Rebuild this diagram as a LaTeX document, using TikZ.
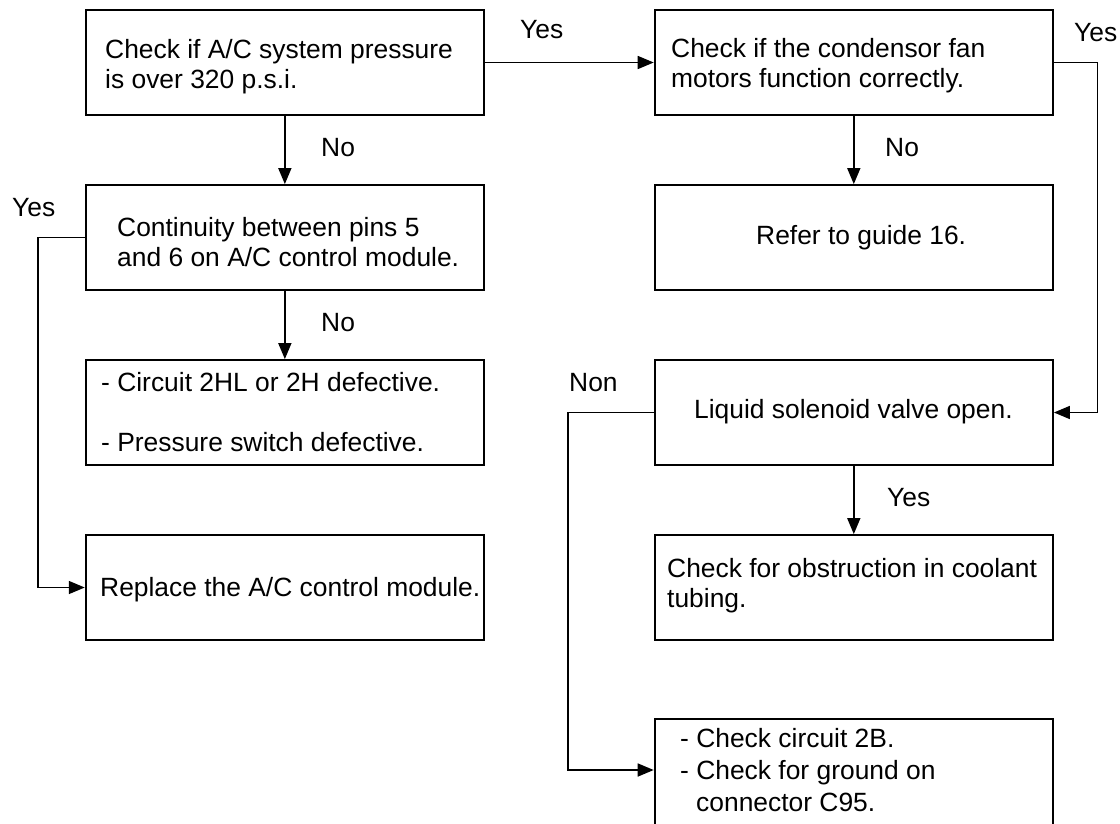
\documentclass[tikz,border=0pt]{standalone}
\usepackage{fontspec}
\setmainfont{Liberation Sans}
\usetikzlibrary{arrows.meta}
\begin{document}
\begin{tikzpicture}[x=1pt,y=-1pt,
  box/.style={draw, line width=1.8pt, minimum width=398.4pt, minimum height=105pt, inner sep=0pt},
  txt/.style={font=\fontsize{26.4}{30}\selectfont, align=left, inner sep=0pt, anchor=west},
  lbl/.style={font=\fontsize{26.4}{30}\selectfont, inner sep=0pt, anchor=west},
  conn/.style={line width=1.6pt},
  arr/.style={conn, -{Triangle[length=16pt,width=13pt]}}]
\useasboundingbox (0,0) rectangle (1120,823);
\clip (0,0) rectangle (1120,823);

% boxes
\node[box] (b1) at (284.85,62.5) {};
\node[box] (b2) at (853.8,62.5) {};
\node[box] (b3) at (284.85,237.5) {};
\node[box] (b4) at (853.8,237.5) {};
\node[box] (b5) at (284.85,412.5) {};
\node[box] (b6) at (853.8,412.5) {};
\node[box] (b7) at (284.85,587.5) {};
\node[box] (b8) at (853.8,587.5) {};
\node[box, minimum height=130pt] (b9) at (853.8,784) {};

% texts
\node[txt] (t1) at (105,67) {Check if A/C system pressure\\is over 320 p.s.i.};
\node[txt] (t2) at (671,66) {Check if the condensor fan\\motors function correctly.};
\node[txt] (t3) at (117,242) {Continuity between pins 5\\and 6 on A/C control module.};
\node[txt] (t4) at (756,238) {Refer to guide 16.};
\node[txt] (t5) at (101,412) {- Circuit 2HL or 2H defective.\\[30pt]- Pressure switch defective.};
\node[txt] (t6) at (694,412) {Liquid solenoid valve open.};
\node[txt] (t7) at (100,590) {Replace the A/C control module.};
\node[txt] (t8) at (667,586) {Check for obstruction in coolant\\tubing.};
\node[txt, font=\fontsize{26.4}{32}\selectfont] (t9) at (680,770) {- Check circuit 2B.\\- Check for ground on\\\hspace*{16pt}connector C95.};

% helper coordinates
\coordinate (r1) at (1097.5,62.5);
\coordinate (l1) at (38,237.5);
\coordinate (l2) at (568,412.5);

% connectors
\draw[arr] (b1.east) -- (b2.west);
\draw[arr] (b1) -- (b3);
\draw[arr] (b3) -- (b5);
\draw[arr] (b2) -- (b4);
\draw[arr] (b6) -- (b8);
\draw[arr] (b2.east) -- (r1) |- (b6.east);
\draw[arr] (b3.west) -- (l1) |- (b7.west);
\draw[arr] (b6.west) -- (l2) |- ([yshift=14pt]b9.west);

% labels
\node[lbl] (y1) at (520,30) {Yes};
\node[lbl] (y2) at (1074,33) {Yes};
\node[lbl] (n1) at (321,148) {No};
\node[lbl] (n2) at (885,148) {No};
\node[lbl] (n3) at (321,323) {No};
\node[lbl] (y3) at (12,208) {Yes};
\node[lbl] (y4) at (887,498) {Yes};
\node[lbl] (n4) at (569,383) {Non};
\end{tikzpicture}
\end{document}
